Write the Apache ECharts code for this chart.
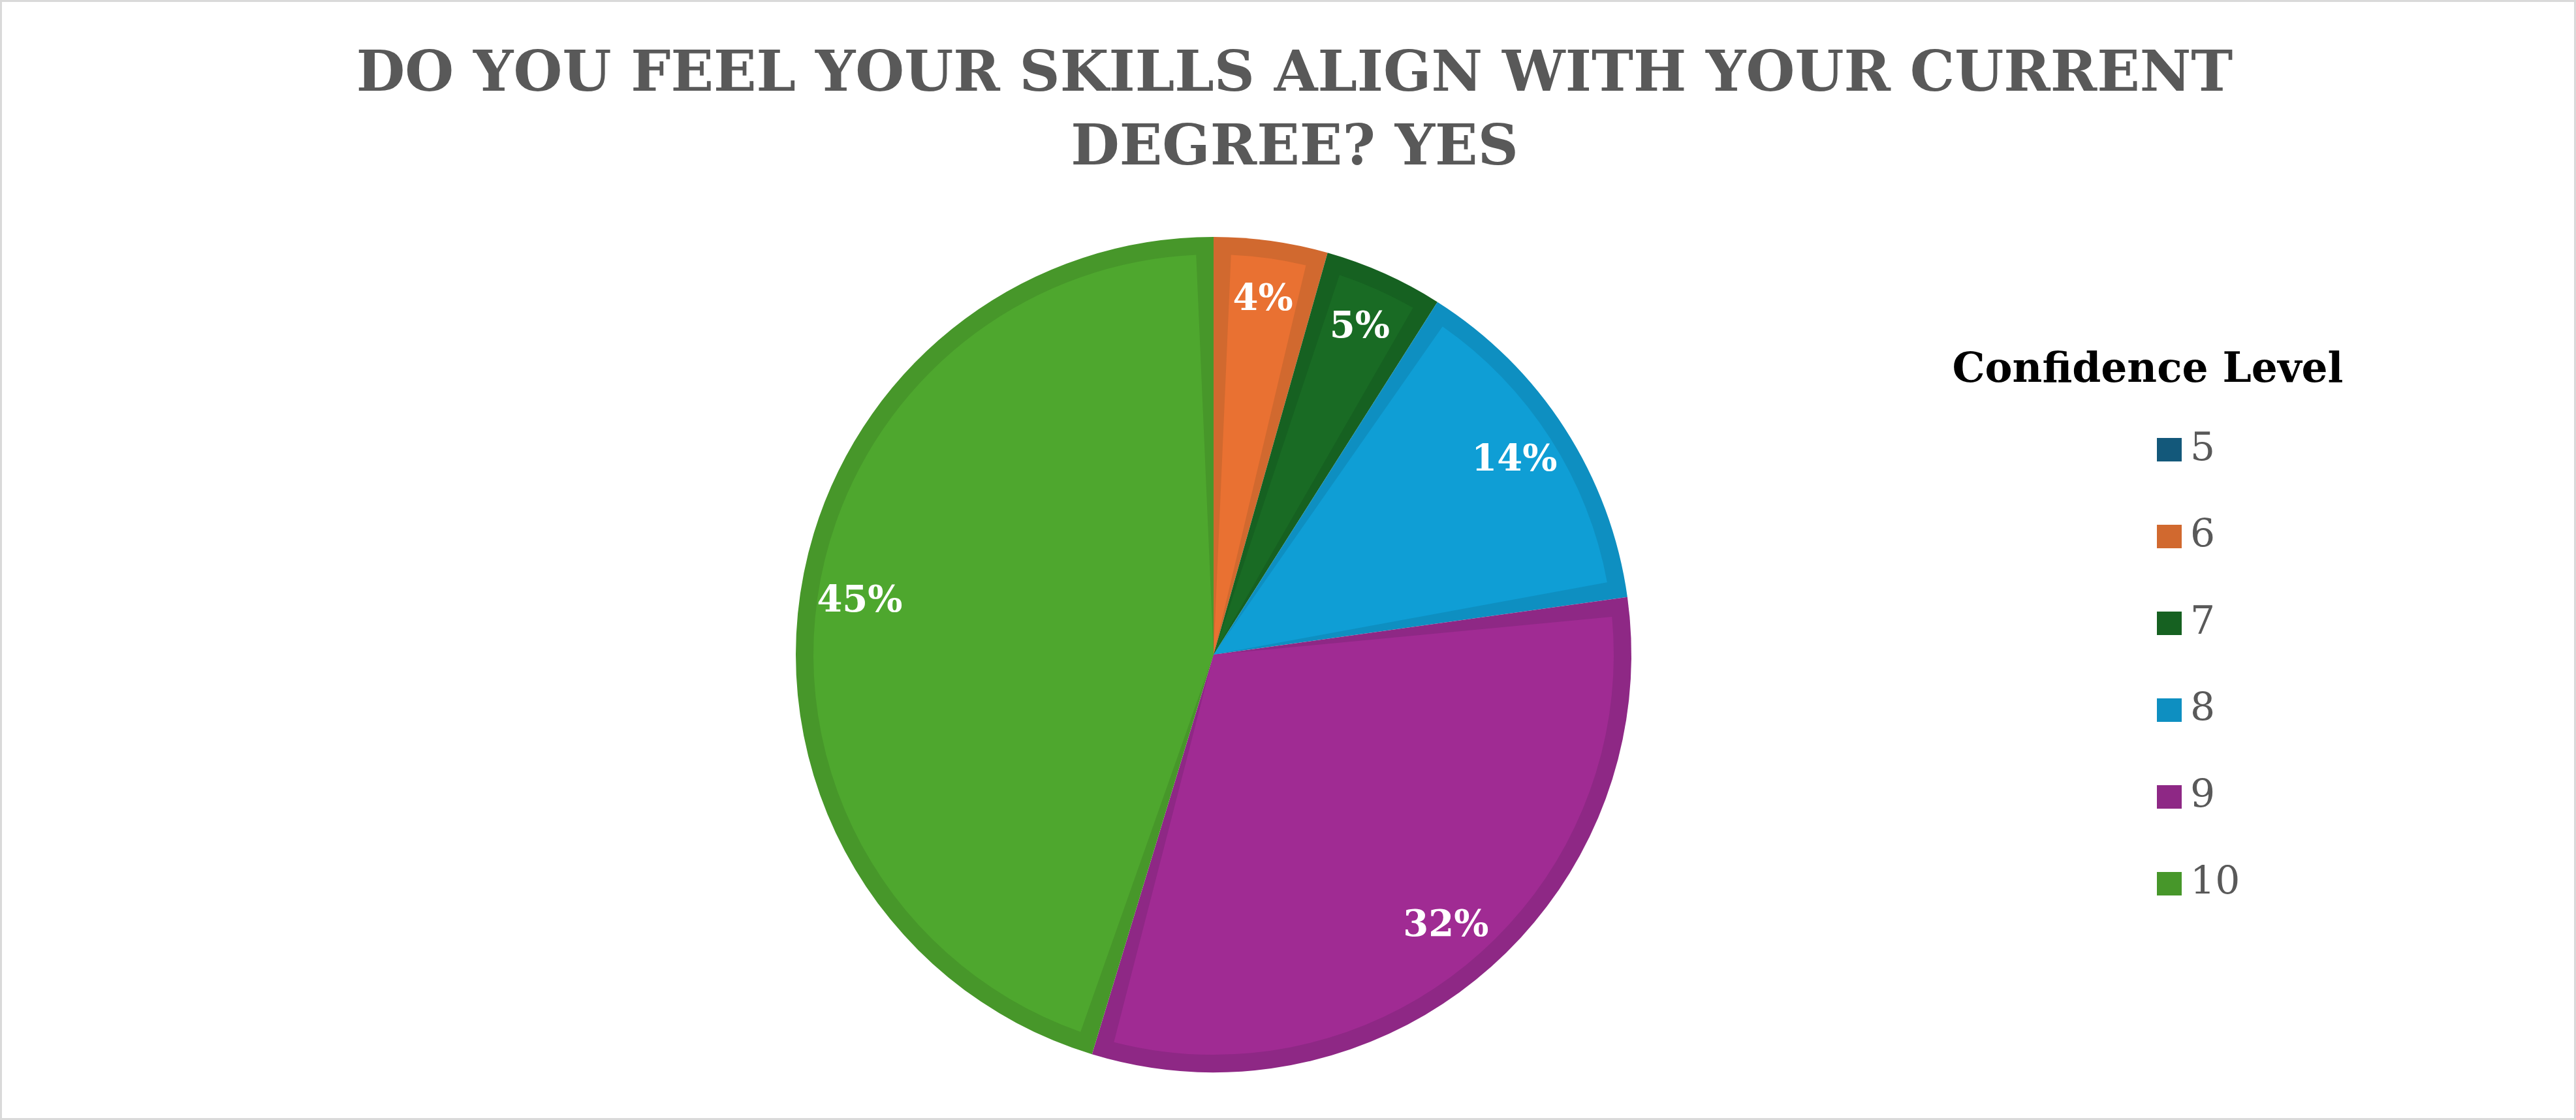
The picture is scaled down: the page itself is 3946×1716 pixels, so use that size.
<!DOCTYPE html>
<html>
<head>
<meta charset="utf-8">
<script src="https://cdn.jsdelivr.net/npm/echarts@6/dist/echarts.min.js"></script>
<style>
html,body{margin:0;padding:0;background:#fff;}
#chart{width:3946px;height:1716px;box-sizing:border-box;border:3px solid #d9d9d9;}
</style>
</head>
<body>
<div id="chart"></div>
<script>
// Data
const titleText = 'DO YOU FEEL YOUR SKILLS ALIGN WITH YOUR CURRENT\nDEGREE? YES';
const legendTitle = 'Confidence Level';
const categories = ['5', '6', '7', '8', '9', '10'];
const values = [0, 4.4, 4.6, 13.8, 31.9, 45.3];
const fillColors = ['#156082', '#E97132', '#196B24', '#0F9ED5', '#A02B93', '#4EA72E'];
const edgeColors = ['#13587a', '#d1692f', '#166121', '#0e8fc1', '#8e2885', '#47972a'];

const chart = echarts.init(document.getElementById('chart'), null, {renderer: 'canvas'});
const CENTER = [1856, 1000];
const SERIF = '"DejaVu Serif", "Liberation Serif", serif';

const baseData = categories.map((c, i) => ({name: c, value: values[i], itemStyle: {color: edgeColors[i]}}));
const fillData = categories.map((c, i) => ({name: c, value: values[i] === 0 ? '-' : values[i], itemStyle: {color: fillColors[i]}}));
const labelData = categories.map((c, i) => ({name: c, value: values[i]}));

chart.setOption({
  animation: false,
  backgroundColor: '#ffffff',
  title: {
    text: titleText,
    left: 1975,
    top: 52,
    textAlign: 'center',
    textStyle: {fontFamily: SERIF, fontWeight: 'bold', fontSize: 86, color: '#595959', lineHeight: 113}
  },
  graphic: [{
    type: 'text',
    x: 3287, y: 566,
    style: {text: legendTitle, font: 'bold 63px ' + SERIF, fill: '#000000', align: 'center', verticalAlign: 'middle'}
  }],
  legend: {
    orient: 'vertical',
    left: 3296,
    top: 651,
    icon: 'rect',
    itemWidth: 38,
    itemHeight: 36,
    itemGap: 73,
    selectedMode: false,
    data: categories,
    textStyle: {fontFamily: SERIF, fontSize: 60, color: '#595959', padding: [0, 0, 0, 8]}
  },
  series: [
    {
      type: 'pie', name: 'edge', center: CENTER, radius: [0, 640], startAngle: 90, clockwise: true,
      silent: true, label: {show: false}, labelLine: {show: false},
      data: baseData
    },
    {
      type: 'pie', name: 'fill', center: CENTER, radius: [0, 613], startAngle: 90, clockwise: true,
      padAngle: 5, silent: true, label: {show: false}, labelLine: {show: false},
      legendHoverLink: false,
      data: fillData
    },
    {
      type: 'pie', name: 'labels', center: CENTER, radius: [450, 640], startAngle: 90, clockwise: true,
      silent: true, itemStyle: {color: 'rgba(0,0,0,0)'}, labelLine: {show: false},
      percentPrecision: 0,
      label: {
        show: true, position: 'inside',
        formatter: p => p.value === 0 ? '' : p.percent + '%',
        fontFamily: SERIF, fontWeight: 'bold', fontSize: 56, color: '#ffffff'
      },
      data: labelData
    }
  ]
});
</script>
</body>
</html>
